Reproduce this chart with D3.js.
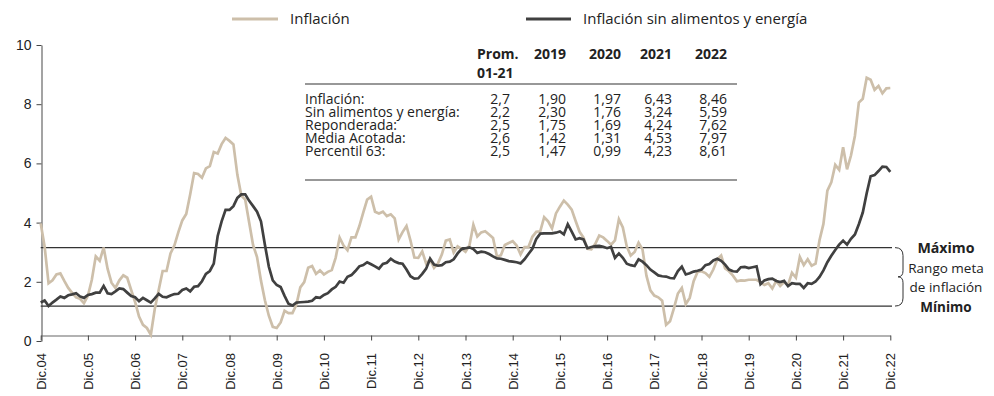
<!DOCTYPE html>
<html>
<head>
<meta charset="utf-8">
<script src="https://cdn.jsdelivr.net/npm/d3@7"></script>
<style>
  body { margin: 0; background: #fff; }
  svg { display: block; font-family: "Open Sans", "Noto Sans", sans-serif; }
</style>
</head>
<body>
<svg id="chart" width="994" height="396"></svg>
<script>
// Etiquetas del eje horizontal (diciembre de cada año)
const tickLabels = ["Dic.04","Dic.05","Dic.06","Dic.07","Dic.08","Dic.09","Dic.10","Dic.11","Dic.12",
  "Dic.13","Dic.14","Dic.15","Dic.16","Dic.17","Dic.18","Dic.19","Dic.20","Dic.21","Dic.22"];

// Inflación a 12 meses, mensual, dic.2004 - dic.2022
const inflacion = [
  3.83,
  3.03, 1.78, 1.88, 2.08, 2.12, 1.86, 1.62, 1.45, 1.30, 1.25, 1.10, 1.35,
  1.90, 2.70, 2.55, 3.00, 2.28, 1.80, 1.62, 1.88, 2.05, 1.97, 1.55, 1.14,
  0.64, 0.36, 0.25, 0.02, 0.90, 1.55, 2.20, 2.20, 2.80, 3.08, 3.53, 3.93,
  4.15, 4.82, 5.55, 5.52, 5.39, 5.71, 5.79, 6.27, 6.22, 6.54, 6.75, 6.65,
  6.53, 5.49, 4.78, 4.64, 3.86, 3.08, 2.68, 1.87, 1.20, 0.67, 0.29, 0.25,
  0.44, 0.84, 0.76, 0.76, 1.04, 1.64, 1.82, 2.31, 2.37, 2.10, 2.22, 2.08,
  2.17, 2.23, 2.66, 3.34, 3.07, 2.91, 3.35, 3.35, 3.73, 4.20, 4.64, 4.74,
  4.23, 4.17, 4.23, 4.08, 4.14, 4.00, 3.28, 3.53, 3.74, 3.25, 2.66, 2.65,
  2.87, 2.45, 2.59, 2.31, 2.46, 2.77, 3.24, 3.28, 2.83, 3.04, 2.96, 2.86,
  3.07, 3.78, 3.38, 3.52, 3.56, 3.45, 3.33, 2.69, 2.74, 3.09, 3.16, 3.22,
  3.07, 2.77, 3.02, 3.02, 3.37, 3.54, 3.56, 4.04, 3.90, 3.66, 4.17, 4.40,
  4.61, 4.47, 4.30, 3.91, 3.54, 3.34, 2.96, 2.94, 3.13, 3.41, 3.35, 3.23,
  3.10, 3.25, 3.97, 3.69, 3.04, 2.73, 2.85, 3.17, 2.94, 2.04, 1.54, 1.36,
  1.30, 1.18, 0.36, 0.48, 0.93, 1.43, 1.62, 1.07, 1.28, 1.85, 2.17, 2.19,
  2.13, 2.00, 2.25, 2.59, 2.73, 2.29, 2.19, 2.04, 1.85, 1.88, 1.87, 1.90,
  1.90, 1.90, 1.82, 1.72, 1.78, 1.60, 1.86, 1.69, 1.82, 1.72, 2.14, 1.97,
  2.68, 2.40, 2.60, 2.38, 2.45, 3.25, 3.81, 4.95, 5.23, 5.83, 5.66, 6.43,
  5.68, 6.15, 6.82, 7.96, 8.09, 8.81, 8.74, 8.40, 8.53, 8.28, 8.45, 8.46
];

// Inflación sin alimentos y energía, mensual, dic.2004 - dic.2022
const sinAlimentosEnergia = [
  1.12,
  1.19, 1.00, 1.12, 1.22, 1.33, 1.28, 1.37, 1.40, 1.44, 1.33, 1.28, 1.38,
  1.41, 1.46, 1.46, 1.69, 1.44, 1.41, 1.50, 1.60, 1.58, 1.46, 1.34, 1.30,
  1.17, 1.28, 1.20, 1.12, 1.26, 1.42, 1.32, 1.30, 1.36, 1.41, 1.42, 1.55,
  1.60, 1.50, 1.66, 1.68, 1.85, 2.10, 2.20, 2.45, 3.40, 3.90, 4.29, 4.29,
  4.42, 4.70, 4.82, 4.82, 4.60, 4.42, 4.23, 3.90, 3.10, 2.35, 1.88, 1.72,
  1.65, 1.35, 1.08, 1.02, 1.12, 1.13, 1.14, 1.15, 1.18, 1.30, 1.28, 1.38,
  1.44, 1.57, 1.66, 1.84, 1.80, 2.00, 2.06, 2.20, 2.36, 2.40, 2.50, 2.43,
  2.36, 2.28, 2.44, 2.48, 2.62, 2.52, 2.47, 2.45, 2.25, 2.02, 1.94, 1.95,
  2.10, 2.28, 2.62, 2.42, 2.38, 2.40, 2.50, 2.52, 2.60, 2.80, 2.95, 2.98,
  3.01, 2.95, 2.82, 2.86, 2.84, 2.78, 2.70, 2.63, 2.62, 2.58, 2.54, 2.52,
  2.50, 2.46, 2.60, 2.78, 2.96, 3.30, 3.48, 3.49, 3.49, 3.49, 3.51, 3.55,
  3.45, 3.80, 3.55, 3.28, 3.32, 3.28, 2.98, 3.02, 3.05, 3.06, 3.03, 2.98,
  3.02, 2.65, 2.80, 2.65, 2.45, 2.40, 2.37, 2.60, 2.52, 2.40, 2.25, 2.15,
  2.05, 2.02, 2.01, 1.96, 1.95, 2.20, 2.35, 2.08, 2.12, 2.18, 2.21, 2.25,
  2.40, 2.44, 2.56, 2.62, 2.55, 2.42, 2.25, 2.19, 2.18, 2.33, 2.34, 2.30,
  2.33, 2.36, 1.75, 1.88, 1.92, 1.94, 1.86, 1.82, 1.86, 1.68, 1.78, 1.76,
  1.76, 1.62, 1.78, 1.76, 1.84, 2.00, 2.22, 2.50, 2.72, 2.92, 3.10, 3.24,
  3.10, 3.30, 3.45, 3.80, 4.20, 4.86, 5.44, 5.48, 5.62, 5.77, 5.76, 5.59
];

// Rango meta de inflación (mínimo, máximo)
const rangoMeta = [1, 3];

// Ticks del eje vertical
const yTicks = [0, 2, 4, 6, 8, 10];

// Cuadro de resumen
const tablaEncabezados = [["Prom.", "01-21"], ["2019"], ["2020"], ["2021"], ["2022"]];
const tablaFilas = ["Inflación:", "Sin alimentos y energía:", "Reponderada:", "Media Acotada:", "Percentil 63:"];
const tablaProm = ["2,7", "2,2", "2,5", "2,6", "2,5"];
const tabla2019 = ["1,90", "2,30", "1,75", "1,42", "1,47"];
const tabla2020 = ["1,97", "1,76", "1,69", "1,31", "0,99"];
const tabla2021 = ["6,43", "3,24", "4,24", "4,53", "4,23"];
const tabla2022 = ["8,46", "5,59", "7,62", "7,97", "8,61"];

const colorInflacion = "#cdbfaa";
const colorSubyacente = "#404040";
const textColor = "#222";

const svg = d3.select("#chart");

// Escalas
const x = d3.scaleLinear().domain([0, inflacion.length - 1]).range([40.7, 890.3]);
const y = d3.scaleLinear().domain([0, 10]).range([335.3, 43]);
// el eje de valores se dibuja con su propia escala
const yAxisScale = d3.scaleLinear().domain([0, 10]).range([341, 45]);

// Eje vertical
const yAxis = svg.append("g")
  .attr("transform", "translate(41.5,0)")
  .call(d3.axisLeft(yAxisScale).tickValues(yTicks).tickSize(5).tickSizeOuter(0).tickPadding(5).tickFormat(d3.format("d")));
yAxis.select(".domain").attr("stroke", "#666").attr("stroke-width", 1.2);
yAxis.selectAll(".tick line").attr("stroke", "#444");
yAxis.selectAll(".tick text").attr("fill", textColor).style("font-size", "14px");

// Eje horizontal
const xAxisY = 335.5;
const xAxis = svg.append("g")
  .attr("transform", `translate(0,${xAxisY})`)
  .call(d3.axisBottom(x).tickValues(d3.range(0, inflacion.length, 12)).tickSize(5).tickSizeOuter(0)
    .tickFormat((d, i) => tickLabels[i]));
xAxis.select(".domain").attr("stroke", "#666").attr("stroke-width", 1.2);
xAxis.selectAll(".tick line").attr("stroke", "#444");
xAxis.selectAll(".tick text")
  .attr("fill", textColor)
  .style("font-size", "13px")
  .attr("text-anchor", "end")
  .attr("transform", "rotate(-90)")
  .attr("x", -17.5)
  .attr("y", 0)
  .attr("dy", "0.36em");

// Líneas del rango meta
svg.append("g").selectAll("line").data(rangoMeta).join("line")
  .attr("x1", x(0)).attr("x2", 892)
  .attr("y1", d => y(d)).attr("y2", d => y(d))
  .attr("stroke", "#333").attr("stroke-width", 1.2);

// Llave del rango meta
const yTop = y(rangoMeta[1]), yBot = y(rangoMeta[0]), yMid = (yTop + yBot) / 2;
const bx0 = 895, bx1 = 903;
svg.append("path")
  .attr("d", `M${bx0},${yTop} Q${bx1},${yTop} ${bx1},${yTop + 8} L${bx1},${yMid - 6} Q${bx1},${yMid} ${bx1 - 5},${yMid} Q${bx1},${yMid} ${bx1},${yMid + 6} L${bx1},${yBot - 8} Q${bx1},${yBot} ${bx0},${yBot}`)
  .attr("fill", "none").attr("stroke", "#333").attr("stroke-width", 1);

const etiquetas = [
  { t: "Máximo", dy: yTop + 5, bold: true, fs: 14.2 },
  { t: "Rango meta", dy: yMid - 4, bold: false, fs: 13.5 },
  { t: "de inflación", dy: yMid + 15, bold: false, fs: 13.5 },
  { t: "Mínimo", dy: yBot + 5.5, bold: true, fs: 13.5 }
];
svg.append("g").selectAll("text").data(etiquetas).join("text")
  .attr("x", 946).attr("y", d => d.dy)
  .attr("text-anchor", "middle")
  .attr("fill", textColor)
  .style("font-size", d => d.fs + "px")
  .style("font-weight", d => d.bold ? "700" : "400")
  .text(d => d.t);

// Series
const line = d3.line().x((d, i) => x(i)).y(d => y(d));
svg.append("path").datum(inflacion)
  .attr("d", line).attr("fill", "none")
  .attr("stroke", colorInflacion).attr("stroke-width", 2.7).attr("stroke-linejoin", "miter");
svg.append("path").datum(sinAlimentosEnergia)
  .attr("d", line).attr("fill", "none")
  .attr("stroke", colorSubyacente).attr("stroke-width", 2.7).attr("stroke-linejoin", "miter");

// Leyenda
const leyenda = [
  { t: "Inflación", c: colorInflacion, x0: 232, x1: 278, tx: 290 },
  { t: "Inflación sin alimentos y energía", c: colorSubyacente, x0: 526, x1: 571, tx: 583 }
];
const lg = svg.append("g").selectAll("g").data(leyenda).join("g");
lg.append("line").attr("x1", d => d.x0).attr("x2", d => d.x1).attr("y1", 19).attr("y2", 19)
  .attr("stroke", d => d.c).attr("stroke-width", 3);
lg.append("text").attr("x", d => d.tx).attr("y", 24)
  .attr("fill", textColor).style("font-size", "15px").text(d => d.t);

// Cuadro
const tabla = svg.append("g").attr("fill", textColor).style("font-size", "14px");
const colDerecha = [510, 566, 621, 672, 727];
const colValores = [tablaProm, tabla2019, tabla2020, tabla2021, tabla2022];
tablaEncabezados.forEach((h, i) => {
  h.forEach((linea, k) => {
    const t = tabla.append("text")
      .attr("y", 59 + k * 19)
      .style("font-weight", "700")
      .text(linea);
    if (i === 0) t.attr("x", 477);
    else t.attr("x", colDerecha[i]).attr("text-anchor", "end");
  });
});
tabla.append("line").attr("x1", 305).attr("x2", 737).attr("y1", 84).attr("y2", 84)
  .attr("stroke", "#333").attr("stroke-width", 1.2);
tabla.append("line").attr("x1", 305).attr("x2", 737).attr("y1", 180).attr("y2", 180)
  .attr("stroke", "#333").attr("stroke-width", 1.2);
tablaFilas.forEach((f, r) => {
  const by = 104 + r * 12.9;
  tabla.append("text").attr("x", 305).attr("y", by).text(f);
  colValores.forEach((col, c) => {
    tabla.append("text").attr("x", colDerecha[c]).attr("y", by)
      .attr("text-anchor", "end").text(col[r]);
  });
});
</script>
</body>
</html>
